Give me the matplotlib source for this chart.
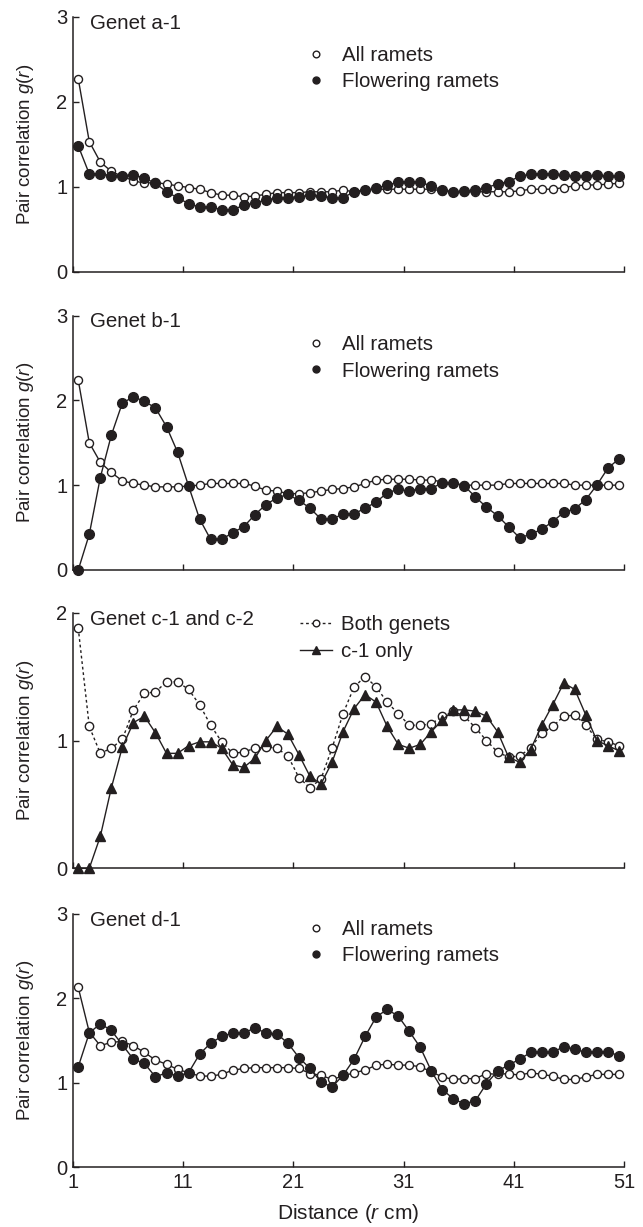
import numpy as np
import matplotlib
matplotlib.use('Agg')
import matplotlib.pyplot as plt
from matplotlib.lines import Line2D

plt.rcParams['font.family'] = ['Liberation Sans', 'DejaVu Sans']
plt.rcParams['mathtext.fontset'] = 'custom'
plt.rcParams['mathtext.rm'] = 'Liberation Sans'
plt.rcParams['mathtext.it'] = 'Liberation Sans:italic'

INK = '#231f20'

# ── Data (g(r), bins centred at 1.5 ... 50.5 cm) ──
DISTANCE = np.arange(1.5, 51.0, 1.0)

A_ALL = [2.27, 1.53, 1.29, 1.18, 1.12, 1.07, 1.04, 1.05, 1.03, 1.01,
         0.99, 0.97, 0.93, 0.90, 0.90, 0.88, 0.89, 0.91, 0.93, 0.93,
         0.93, 0.94, 0.94, 0.94, 0.96, 0.94, 0.96, 0.97, 0.97, 0.97,
         0.97, 0.97, 0.97, 0.95, 0.94, 0.94, 0.94, 0.94, 0.94, 0.94,
         0.95, 0.97, 0.97, 0.97, 0.99, 1.01, 1.02, 1.02, 1.03, 1.04]
A_FLOWER = [1.48, 1.15, 1.15, 1.13, 1.13, 1.14, 1.10, 1.04, 0.94, 0.87,
            0.80, 0.76, 0.76, 0.73, 0.73, 0.78, 0.81, 0.84, 0.87, 0.87,
            0.88, 0.90, 0.89, 0.87, 0.87, 0.94, 0.96, 0.98, 1.02, 1.05,
            1.06, 1.05, 1.01, 0.96, 0.94, 0.95, 0.96, 0.99, 1.03, 1.06,
            1.12, 1.15, 1.15, 1.15, 1.14, 1.12, 1.12, 1.14, 1.12, 1.12]

B_ALL = [2.24, 1.50, 1.27, 1.15, 1.05, 1.02, 1.00, 0.98, 0.98, 0.98,
         0.99, 1.00, 1.02, 1.02, 1.02, 1.02, 0.99, 0.94, 0.93, 0.90,
         0.90, 0.91, 0.93, 0.95, 0.96, 0.98, 1.02, 1.06, 1.07, 1.07,
         1.07, 1.06, 1.06, 1.04, 1.02, 1.00, 1.00, 1.00, 1.00, 1.02,
         1.02, 1.02, 1.02, 1.02, 1.02, 1.00, 1.00, 1.00, 1.00, 1.00]
B_FLOWER = [0.00, 0.42, 1.09, 1.59, 1.97, 2.04, 1.99, 1.91, 1.69, 1.39,
            0.99, 0.60, 0.36, 0.36, 0.44, 0.51, 0.65, 0.77, 0.85, 0.89,
            0.82, 0.73, 0.60, 0.60, 0.66, 0.66, 0.73, 0.80, 0.91, 0.95,
            0.93, 0.96, 0.96, 1.03, 1.03, 0.99, 0.86, 0.74, 0.64, 0.51,
            0.38, 0.42, 0.48, 0.57, 0.68, 0.72, 0.83, 1.00, 1.20, 1.31]

C_BOTH = [1.88, 1.11, 0.90, 0.94, 1.01, 1.24, 1.37, 1.38, 1.46, 1.46,
          1.40, 1.28, 1.12, 0.99, 0.90, 0.91, 0.94, 0.95, 0.94, 0.88,
          0.71, 0.63, 0.70, 0.94, 1.21, 1.42, 1.50, 1.42, 1.30, 1.21,
          1.12, 1.12, 1.13, 1.19, 1.23, 1.19, 1.10, 1.00, 0.91, 0.87,
          0.88, 0.94, 1.06, 1.11, 1.19, 1.20, 1.12, 1.01, 0.99, 0.96]
C_C1 = [0.00, 0.00, 0.25, 0.63, 0.95, 1.14, 1.19, 1.06, 0.90, 0.90,
        0.96, 0.99, 0.99, 0.94, 0.81, 0.79, 0.86, 1.00, 1.11, 1.05,
        0.89, 0.72, 0.66, 0.83, 1.07, 1.25, 1.36, 1.30, 1.11, 0.97,
        0.94, 0.97, 1.07, 1.16, 1.24, 1.24, 1.23, 1.19, 1.07, 0.87,
        0.83, 0.93, 1.12, 1.28, 1.45, 1.40, 1.20, 1.00, 0.96, 0.92]

D_ALL = [2.13, 1.60, 1.44, 1.48, 1.49, 1.44, 1.36, 1.27, 1.22, 1.16,
         1.12, 1.08, 1.08, 1.10, 1.15, 1.17, 1.18, 1.18, 1.18, 1.18,
         1.17, 1.11, 1.09, 1.04, 1.08, 1.12, 1.15, 1.21, 1.22, 1.21,
         1.21, 1.19, 1.13, 1.07, 1.04, 1.05, 1.05, 1.11, 1.10, 1.11,
         1.09, 1.12, 1.10, 1.08, 1.04, 1.04, 1.07, 1.10, 1.10, 1.10]
D_FLOWER = [1.19, 1.59, 1.70, 1.62, 1.45, 1.28, 1.23, 1.07, 1.12, 1.08,
            1.12, 1.34, 1.47, 1.55, 1.59, 1.59, 1.65, 1.59, 1.58, 1.47,
            1.30, 1.17, 1.01, 0.95, 1.09, 1.28, 1.55, 1.78, 1.87, 1.79,
            1.61, 1.42, 1.14, 0.92, 0.81, 0.75, 0.79, 0.99, 1.14, 1.21,
            1.28, 1.36, 1.36, 1.36, 1.43, 1.40, 1.36, 1.37, 1.37, 1.32]

X_TICKS = [1, 11, 21, 31, 41, 51]

# panel layout in figure fraction: (bottom, height)
PANELS = [
    {'title': 'Genet a-1', 'bottom': 0.7786, 'height': 0.2078, 'ymax': 3,
     'kind': 'ramets', 'series': (A_ALL, A_FLOWER), 'leg_y': 0.885},
    {'title': 'Genet b-1', 'bottom': 0.5355, 'height': 0.2073, 'ymax': 3,
     'kind': 'ramets', 'series': (B_ALL, B_FLOWER), 'leg_y': 0.923},
    {'title': 'Genet c-1 and c-2', 'bottom': 0.2923, 'height': 0.2083, 'ymax': 2,
     'kind': 'genets', 'series': (C_BOTH, C_C1), 'leg_y': 0.99},
    {'title': 'Genet d-1', 'bottom': 0.0487, 'height': 0.2064, 'ymax': 3,
     'kind': 'ramets', 'series': (D_ALL, D_FLOWER), 'leg_y': 0.976},
]

FS_TEXT = 14.8
FS_LABEL = 13.5
FS_XLABEL = 15.0
FS_TICK = 14.5

fig = plt.figure(figsize=(6.43, 12.27), dpi=100)

for n, spec in enumerate(PANELS):
    ax = fig.add_axes([0.1131, spec['bottom'], 0.858, spec['height']])
    first, second = spec['series']

    if spec['kind'] == 'ramets':
        ax.plot(DISTANCE, first, color=INK, lw=1.0, marker='o', ms=5.8,
                mfc='white', mec=INK, mew=1.0, zorder=3)
        ax.plot(DISTANCE, second, color=INK, lw=1.0, marker='o', ms=7.0,
                mfc=INK, mec=INK, zorder=4)
        handles = [
            Line2D([], [], ls='none', marker='o', ms=4.8, mfc='white', mec=INK, mew=1.0),
            Line2D([], [], ls='none', marker='o', ms=5.0, mfc=INK, mec=INK),
        ]
        labels = ['All ramets', 'Flowering ramets']
        leg_kw = dict(bbox_to_anchor=(0.4226, spec['leg_y']), handlelength=1.0,
                      handletextpad=0.76)
    else:
        ax.plot(DISTANCE, first, color=INK, lw=1.0, ls=(0, (2, 2)), marker='o', ms=6.0,
                mfc='white', mec=INK, mew=1.0, zorder=3)
        ax.plot(DISTANCE, second, color=INK, lw=1.0, marker='^', ms=7.0,
                mfc=INK, mec=INK, zorder=4)
        handles = [
            Line2D([], [], color=INK, lw=1.0, ls=(0, (2, 2)), marker='o', ms=4.8,
                   mfc='white', mec=INK, mew=1.0),
            Line2D([], [], color=INK, lw=1.0, marker='^', ms=6.0, mfc=INK, mec=INK),
        ]
        labels = ['Both genets', 'c-1 only']
        leg_kw = dict(bbox_to_anchor=(0.412, spec['leg_y']), handlelength=1.55,
                      handletextpad=0.42)

    ax.legend(handles, labels, loc='upper left', frameon=False, fontsize=FS_TEXT,
              labelspacing=0.36, borderpad=0.0, borderaxespad=0.0, labelcolor=INK,
              **leg_kw)

    ax.text(0.031, 0.975, spec['title'], transform=ax.transAxes, ha='left', va='center',
            fontsize=FS_TEXT, color=INK)

    ax.set_xlim(1, 51)
    ax.set_ylim(0, spec['ymax'])
    ax.set_xticks(X_TICKS)
    ax.set_yticks(range(spec['ymax'] + 1))
    for side in ('top', 'right'):
        ax.spines[side].set_visible(False)
    for side in ('left', 'bottom'):
        ax.spines[side].set_linewidth(1.1)
        ax.spines[side].set_color(INK)
    ax.tick_params(direction='in', length=4, width=1.0, color=INK, labelcolor=INK,
                   labelsize=FS_TICK, pad=4)
    ax.set_ylabel(r'Pair correlation $g$($r$)', fontsize=FS_LABEL, color=INK)
    ax.yaxis.set_label_coords(-0.067, 0.5)
    for line in ax.lines:
        line.set_clip_on(False)

    if n == len(PANELS) - 1:
        ax.set_xticklabels([str(t) for t in X_TICKS])
        ax.set_xlabel(r'Distance ($r$ cm)', fontsize=FS_XLABEL, color=INK, labelpad=7)
    else:
        ax.set_xticklabels([])

fig.savefig('out.png', dpi=100)
